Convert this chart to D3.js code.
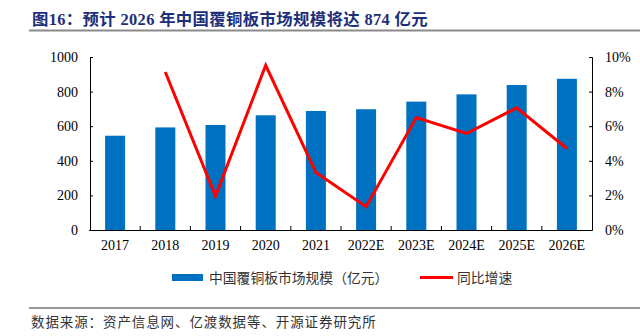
<!DOCTYPE html>
<html><head><meta charset="utf-8">
<script src="https://cdn.jsdelivr.net/npm/d3@7"></script>
<style>body{margin:0;background:#fff}svg{display:block}</style>
</head><body>
<svg id="c" width="640" height="336"></svg>
<script>
const categories = ["2017","2018","2019","2020","2021","2022E","2023E","2024E","2025E","2026E"];
const marketSize = [545, 593, 607, 663, 688, 698, 742, 784, 838, 874];
const growth = [null, 9.13, 1.96, 9.52, 3.33, 1.35, 6.5, 5.58, 7.06, 4.71];
const leftTicks = [0, 200, 400, 600, 800, 1000];
const rightTicks = [0, 2, 4, 6, 8, 10];

const svg = d3.select("#c");
const L = 90, R = 592, T = 57, B = 230;
const serif = "'Liberation Serif','Times New Roman',serif";
const cjk = "'Noto Sans CJK SC',sans-serif";

svg.append("text").attr("x", 32).attr("y", 24.5)
  .attr("font-family", "'Liberation Serif', 'Noto Sans CJK SC', serif")
  .attr("font-weight", "bold").attr("font-size", 16.4).attr("letter-spacing", 0.35).attr("fill", "#1d2f7a")
  .text("图16：预计 2026 年中国覆铜板市场规模将达 874 亿元");
svg.append("line").attr("x1", 29).attr("x2", 640).attr("y1", 30.5).attr("y2", 30.5)
  .attr("stroke", "#8a8a8a").attr("stroke-width", 2);

const xb = d3.scaleBand().domain(categories).range([L, R]);
const y = d3.scaleLinear().domain([0, 1000]).range([B, T]);
const y2 = d3.scaleLinear().domain([0, 10]).range([B, T]);

svg.append("g").selectAll("rect").data(marketSize).join("rect")
  .attr("x", (d, i) => xb(categories[i]) + xb.bandwidth() / 2 - 10)
  .attr("width", 20)
  .attr("y", d => y(d)).attr("height", d => B - y(d))
  .attr("fill", "#0070c0");

const line = d3.line().defined(d => d != null)
  .x((d, i) => xb(categories[i]) + xb.bandwidth() / 2)
  .y(d => y2(d));
svg.append("path").datum(growth).attr("d", line)
  .attr("fill", "none").attr("stroke", "#ff0000").attr("stroke-width", 3)
  .attr("stroke-linejoin", "miter");

const gl = svg.append("g").attr("transform", `translate(${L},0)`)
  .call(d3.axisLeft(y).tickValues(leftTicks).tickSize(-3).tickPadding(12).tickFormat(d3.format("d")));
const gr = svg.append("g").attr("transform", `translate(${R},0)`)
  .call(d3.axisRight(y2).tickValues(rightTicks).tickSize(-3).tickPadding(13).tickFormat(d => d + "%"));
const gx = svg.append("g").attr("transform", `translate(0,${B})`)
  .call(d3.axisBottom(xb).tickSize(0).tickPadding(10));
gx.append("g").selectAll("line").data(categories.slice(1)).join("line")
  .attr("x1", d => xb(d)).attr("x2", d => xb(d)).attr("y1", 0).attr("y2", -4)
  .attr("stroke", "#000");

[gl, gr, gx].forEach(g => {
  g.selectAll(".domain").attr("stroke", "#000").attr("stroke-width", 1);
  g.selectAll(".tick line").attr("stroke", "#000");
  g.selectAll("text").attr("font-family", serif).attr("font-size", 14).attr("fill", "#000");
});
gx.select(".domain").attr("d", `M${L - 1},0.5H${R}`);

// legend
const ly = 277.5;
svg.append("rect").attr("x", 172).attr("y", ly - 3.5).attr("width", 31).attr("height", 7).attr("fill", "#0070c0");
svg.append("text").attr("x", 209).attr("y", ly + 5).attr("font-family", cjk).attr("font-size", 13.8)
  .attr("fill", "#333").text("中国覆铜板市场规模（亿元）");
svg.append("line").attr("x1", 420).attr("x2", 453).attr("y1", ly).attr("y2", ly)
  .attr("stroke", "#ff0000").attr("stroke-width", 3);
svg.append("text").attr("x", 457).attr("y", ly + 5).attr("font-family", cjk).attr("font-size", 13.8)
  .attr("fill", "#333").text("同比增速");

// footer
svg.append("line").attr("x1", 29).attr("x2", 640).attr("y1", 308).attr("y2", 308)
  .attr("stroke", "#333").attr("stroke-width", 1.2);
svg.append("text").attr("x", 31).attr("y", 327).attr("font-family", cjk).attr("font-size", 13.5)
  .attr("letter-spacing", 0.9).attr("fill", "#333").text("数据来源：资产信息网、亿渡数据等、开源证券研究所");
</script>
</body></html>
